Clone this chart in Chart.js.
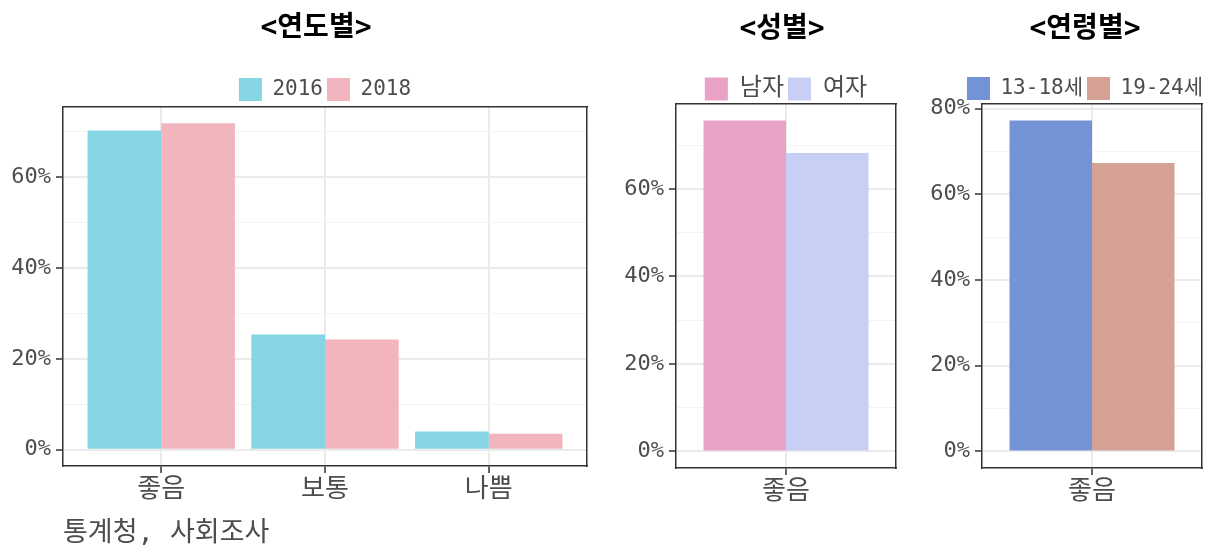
<!DOCTYPE html>
<html lang="ko">
<head>
<meta charset="utf-8">
<title>만족도 비교</title>
<script src="https://cdn.jsdelivr.net/npm/chart.js@4.4.1/dist/chart.umd.min.js"></script>
<style>
  html, body { margin: 0; padding: 0; background: #fff; overflow: hidden; width: 1216px; height: 547px; }
  canvas { position: absolute; top: 0; }
</style>
</head>
<body>
<canvas id="chartYear" width="632" height="547" style="left:0px"></canvas>
<canvas id="chartSex" width="364" height="547" style="left:600px"></canvas>
<canvas id="chartAge" width="350" height="547" style="left:910px"></canvas>
<script>
// 연도별
const ratings = ['좋음', '보통', '나쁨'];
const years = ['2016', '2018'];
const values2016 = [70.3, 25.4, 4.0];
const values2018 = [71.9, 24.3, 3.5];

// 성별
const goodOnly = ['좋음'];
const sexes = ['남자', '여자'];
const valuesMale = [75.6];
const valuesFemale = [68.2];

// 연령별
const ages = ['13-18세', '19-24세'];
const values1318 = [77.2];
const values1924 = [67.3];

// y축 눈금 (10 단위 보조선, 20 단위 라벨)
const yTicks = [0, 10, 20, 30, 40, 50, 60, 70, 80];
const yLabelTicks = [0, 20, 40, 60, 80];

const FONT = '"DejaVu Sans Mono", "Noto Sans CJK KR", sans-serif';
const GREY = '#4d4d4d';
const DARK = '#333333';
const isMajor = c => c.tick && yLabelTicks.includes(c.tick.value);

function makeChart(id, cats, series, o) {
    const n = cats.length;
    const top = Math.max(...series.flatMap(s => s.values));
    // ggplot 기본 여백: y는 5%, x는 0.6 카테고리
    const yMin = -0.05 * top;
    const yMax = 1.05 * top;

    return new Chart(document.getElementById(id), {
        type: 'bar',
        data: {
            datasets: series.map(s => ({
                label: s.label,
                data: s.values.map((v, i) => ({ x: i, y: v })),
                backgroundColor: s.color,
                borderWidth: 0,
                barPercentage: 1,
                categoryPercentage: n > 1 ? 0.9 : 0.9 / 1.2,
            })),
        },
        options: {
            responsive: false,
            animation: false,
            events: [],
            layout: { padding: { top: 0, left: 0, right: 0, bottom: o.bottomPad } },
            scales: {
                x: {
                    type: 'linear',
                    min: -0.6,
                    max: n - 0.4,
                    offset: false,
                    afterBuildTicks: s => { s.ticks = cats.map((c, i) => ({ value: i })); },
                    afterFit: s => { s.height = 48; },
                    grid: { offset: false, color: '#ebebeb', lineWidth: 2, tickLength: 7, tickColor: DARK, tickWidth: 1.5 },
                    border: { color: DARK, width: 1.5 },
                    ticks: {
                        callback: v => cats[v],
                        autoSkip: false,
                        maxRotation: 0,
                        padding: 2,
                        color: GREY,
                        font: { family: FONT, size: 26 },
                    },
                },
                xTop: {
                    type: 'linear',
                    axis: 'x',
                    position: 'top',
                    offset: false,
                    afterFit: s => { s.height = 0; },
                    grid: { display: false, offset: false },
                    border: { color: DARK, width: 1.5 },
                    ticks: { display: false },
                },
                y: {
                    min: yMin,
                    max: yMax,
                    afterBuildTicks: s => { s.ticks = yTicks.filter(v => v <= yMax).map(v => ({ value: v })); },
                    afterFit: s => { s.width = o.axisW; },
                    grid: {
                        color: c => isMajor(c) ? '#ebebeb' : '#f3f3f3',
                        lineWidth: c => isMajor(c) ? 2 : 1,
                        tickLength: 7,
                        tickColor: c => isMajor(c) ? DARK : 'rgba(0,0,0,0)',
                        tickWidth: 1.5,
                    },
                    border: { color: DARK, width: 1.5 },
                    ticks: {
                        callback: v => yLabelTicks.includes(v) ? v + '%' : '',
                        padding: 5,
                        color: GREY,
                        font: { family: FONT, size: 22 },
                    },
                },
                yRight: {
                    type: 'linear',
                    axis: 'y',
                    position: 'right',
                    afterFit: s => { s.width = o.rightW; },
                    grid: { display: false },
                    border: { color: DARK, width: 1.5 },
                    ticks: { display: false },
                },
            },
            plugins: {
                title: {
                    display: true,
                    text: o.title,
                    fullSize: true,
                    color: '#000',
                    font: { family: FONT, size: 28, weight: 'bold' },
                    padding: { top: o.titleTop, bottom: o.titleBottom },
                },
                legend: {
                    position: 'top',
                    fullSize: o.legendFull,
                    maxHeight: o.legendH,
                    labels: {
                        boxWidth: 23,
                        boxHeight: 23,
                        padding: 4,
                        color: GREY,
                        font: { family: FONT, size: o.legendSize },
                    },
                },
                subtitle: {
                    display: !!o.caption,
                    text: o.caption || '',
                    position: 'bottom',
                    align: 'start',
                    fullSize: false,
                    color: GREY,
                    font: { family: FONT, size: 27, lineHeight: 1 },
                    padding: { top: 6, bottom: 0 },
                },
                tooltip: { enabled: false },
            },
        },
    });
}

makeChart('chartYear', ratings, [
    { label: years[0], values: values2016, color: '#86d5e5' },
    { label: years[1], values: values2018, color: '#f2b5bd' },
], { title: '<연도별>', caption: '통계청, 사회조사', axisW: 63, rightW: 45, legendSize: 21,
     titleTop: 12, titleBottom: 28.4, legendH: 33, legendFull: false, bottomPad: 0 });

makeChart('chartSex', goodOnly, [
    { label: sexes[0], values: valuesMale, color: '#e8a2c6' },
    { label: sexes[1], values: valuesFemale, color: '#c8cff4' },
], { title: '<성별>', axisW: 76, rightW: 68, legendSize: 24,
     titleTop: 13, titleBottom: 26.4, legendH: 31, legendFull: false, bottomPad: 31 });

makeChart('chartAge', goodOnly, [
    { label: ages[0], values: values1318, color: '#7493d6' },
    { label: ages[1], values: values1924, color: '#d6a195' },
], { title: '<연령별>', axisW: 72, rightW: 58, legendSize: 21,
     titleTop: 13, titleBottom: 26.4, legendH: 31, legendFull: true, bottomPad: 31 });
</script>
</body>
</html>
